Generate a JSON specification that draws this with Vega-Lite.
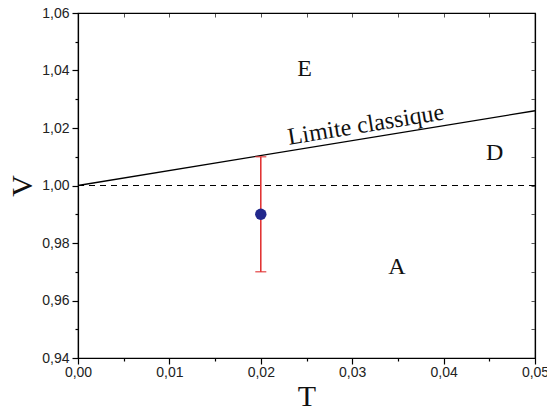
{
  "$schema": "https://vega.github.io/schema/vega-lite/v6.json",
  "autosize": {"type": "none"},
  "padding": {"left": 78, "top": 13, "right": 12, "bottom": 60},
  "width": 457,
  "height": 345,
  "background": "white",
  "config": {
    "view": {"stroke": "black", "strokeWidth": 1.2},
    "axis": {"grid": false, "domainColor": "black", "tickColor": "black", "labelFont": "Liberation Sans", "labelFontSize": 14, "labelColor": "#222", "labelFlush": false, "labelOverlap": false, "titleFont": "Liberation Serif", "titleFontWeight": "normal", "titleColor": "#111"}
  },
  "datasets": {
    "limit": [{"T": 0.0, "V": 1.0}, {"T": 0.05, "V": 1.026}],
    "unity": [{"T": 0.0, "V": 1.0}, {"T": 0.05, "V": 1.0}],
    "meas": [{"T": 0.02, "V": 0.99, "lo": 0.97, "hi": 1.01}],
    "labels": [
      {"T": 0.0248, "V": 1.0405, "txt": "E"},
      {"T": 0.0456, "V": 1.0112, "txt": "D"},
      {"T": 0.0349, "V": 0.9715, "txt": "A"}
    ],
    "curve": [{"T": 0.0315, "V": 1.021, "txt": "Limite classique"}]
  },
  "resolve": {"axis": {"x": "independent", "y": "independent"}},
  "layer": [
    {
      "data": {"name": "limit"},
      "mark": {"type": "line", "color": "black", "strokeWidth": 1.3},
      "encoding": {
        "x": {"field": "T", "type": "quantitative", "scale": {"domain": [0, 0.05], "nice": false, "zero": false},
          "axis": {"orient": "bottom", "values": [0, 0.01, 0.02, 0.03, 0.04, 0.05], "labelExpr": "replace(format(datum.value, '.2f'), '.', ',')", "labelFontSize": 14, "labelFlush": false, "tickSize": 6, "tickWidth": 1.2, "domainWidth": 1.2, "labelPadding": 1, "title": "T", "titleFontSize": 30, "titlePadding": 2}},
        "y": {"field": "V", "type": "quantitative", "scale": {"domain": [0.94, 1.06], "nice": false, "zero": false},
          "axis": {"orient": "left", "values": [0.94, 0.96, 0.98, 1.0, 1.02, 1.04, 1.06], "labelExpr": "replace(format(datum.value, '.2f'), '.', ',')", "labelFontSize": 14, "labelFlush": false, "tickSize": 6, "tickWidth": 1.2, "domainWidth": 1.2, "labelPadding": 3, "title": "V", "titleFontSize": 30, "titlePadding": 4}}
      }
    },
    {
      "data": {"name": "unity"},
      "mark": {"type": "line", "color": "black", "strokeWidth": 1.2, "strokeDash": [6, 5]},
      "encoding": {
        "x": {"field": "T", "type": "quantitative", "axis": {"orient": "bottom", "values": [0.005, 0.015, 0.025, 0.035, 0.045], "labels": false, "domain": false, "tickSize": 3, "tickWidth": 1.2, "title": null}},
        "y": {"field": "V", "type": "quantitative", "axis": {"orient": "left", "values": [0.95, 0.97, 0.99, 1.01, 1.03, 1.05], "labels": false, "domain": false, "tickSize": 3, "tickWidth": 1.2, "title": null}}
      }
    },
    {
      "data": {"name": "meas"},
      "mark": {"type": "rule", "color": "#e02a2a", "strokeWidth": 1.5},
      "encoding": {
        "x": {"field": "T", "type": "quantitative", "axis": {"orient": "top", "values": [0.005, 0.01, 0.015, 0.02, 0.025, 0.03, 0.035, 0.04, 0.045], "labels": false, "domainWidth": 1.2, "tickSize": -4, "tickWidth": 1, "tickColor": "#555", "title": null}},
        "y": {"field": "lo", "type": "quantitative", "axis": {"orient": "right", "values": [0.95, 0.96, 0.97, 0.98, 0.99, 1.0, 1.01, 1.02, 1.03, 1.04, 1.05], "labels": false, "domainWidth": 1.2, "tickSize": -4, "tickWidth": 1, "tickColor": "#555", "title": null}},
        "y2": {"field": "hi"}
      }
    },
    {
      "data": {"name": "meas"},
      "mark": {"type": "tick", "orient": "horizontal", "color": "#e02a2a", "size": 11, "thickness": 1.5},
      "encoding": {
        "x": {"field": "T", "type": "quantitative", "axis": null},
        "y": {"field": "lo", "type": "quantitative", "axis": null}
      }
    },
    {
      "data": {"name": "meas"},
      "mark": {"type": "tick", "orient": "horizontal", "color": "#e02a2a", "size": 11, "thickness": 1.5},
      "encoding": {
        "x": {"field": "T", "type": "quantitative", "axis": null},
        "y": {"field": "hi", "type": "quantitative", "axis": null}
      }
    },
    {
      "data": {"name": "meas"},
      "mark": {"type": "point", "filled": true, "shape": "circle", "size": 130, "color": "#22288c", "opacity": 1},
      "encoding": {
        "x": {"field": "T", "type": "quantitative", "axis": null},
        "y": {"field": "V", "type": "quantitative", "axis": null}
      }
    },
    {
      "data": {"name": "labels"},
      "mark": {"type": "text", "font": "Liberation Serif", "fontSize": 24, "color": "#111", "align": "center", "baseline": "middle"},
      "encoding": {
        "x": {"field": "T", "type": "quantitative", "axis": null},
        "y": {"field": "V", "type": "quantitative", "axis": null},
        "text": {"field": "txt"}
      }
    },
    {
      "data": {"name": "curve"},
      "mark": {"type": "text", "font": "Liberation Serif", "fontSize": 24, "color": "#111", "align": "center", "baseline": "middle", "angle": 350.7},
      "encoding": {
        "x": {"field": "T", "type": "quantitative", "axis": null},
        "y": {"field": "V", "type": "quantitative", "axis": null},
        "text": {"field": "txt"}
      }
    }
  ]
}
